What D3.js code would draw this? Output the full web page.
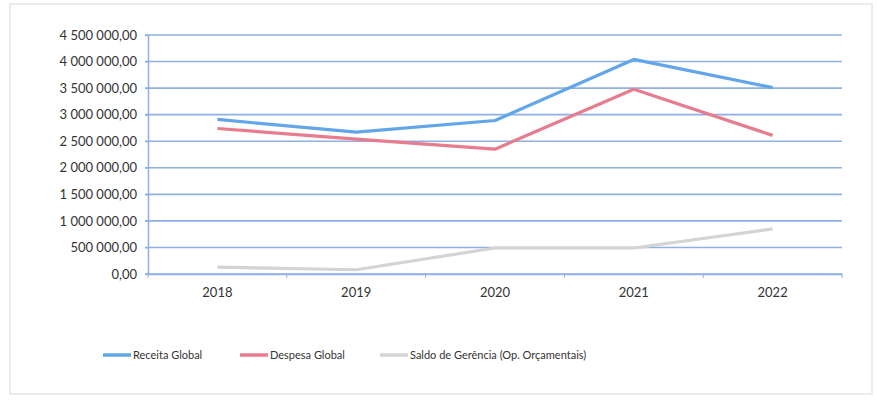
<!DOCTYPE html>
<html>
<head>
<meta charset="utf-8">
<script src="https://cdn.jsdelivr.net/npm/d3@7"></script>
<style>
  body { margin: 0; background: #fff; }
  svg text { font-family: Lato, "Open Sans", sans-serif; }
</style>
</head>
<body>
<div id="chart"></div>
<script>
// data
const years = ["2018", "2019", "2020", "2021", "2022"];
const receitaGlobal = [2910000, 2670000, 2890000, 4040000, 3510000];
const despesaGlobal = [2740000, 2540000, 2350000, 3480000, 2610000];
const saldoGerencia = [130000, 80000, 490000, 490000, 850000];
const seriesNames = ["Receita Global", "Despesa Global", "Saldo de Gerência (Op. Orçamentais)"];
const yTicks = [0, 500000, 1000000, 1500000, 2000000, 2500000, 3000000, 3500000, 4000000, 4500000];

const colors = ["#62a6ea", "#e77c8f", "#d4d4d4"];

let width = 877, height = 400;
let margin = {top: 35, right: 35, bottom: 126, left: 148};

let svg = d3.select("#chart").append("svg")
    .attr("width", width)
    .attr("height", height);

// faint frame of the scanned chart box
svg.append("rect")
    .attr("x", 10).attr("y", 4)
    .attr("width", 862).attr("height", 390)
    .attr("fill", "none")
    .attr("stroke", "#e6e6e6")
    .attr("stroke-width", 1.5);

let x = d3.scaleBand().domain(years).range([margin.left, width - margin.right]);
let y = d3.scaleLinear().domain([0, 4500000]).range([height - margin.bottom, margin.top]);

// y labels like "4 500 000,00"
const fmt = v => d3.format(",.2f")(v).replace(/,/g, " ").replace(".", ",");

// gridlines
svg.append("g")
    .selectAll("line")
    .data(yTicks)
    .enter().append("line")
    .attr("x1", margin.left - 3)
    .attr("x2", width - margin.right)
    .attr("y1", d => y(d))
    .attr("y2", d => y(d))
    .style("stroke", "#8fb0e6")
    .style("stroke-width", 1.6);

// y axis
let yAxis = svg.append("g")
    .attr("transform", `translate(${margin.left},0)`)
    .call(d3.axisLeft(y).tickValues(yTicks).tickFormat(fmt).tickSize(3).tickPadding(8));
yAxis.select(".domain").style("stroke", "#8fb0e6").style("stroke-width", 1.5);
yAxis.selectAll(".tick line").style("stroke", "#8fb0e6");
yAxis.selectAll("text").style("font-size", "13px").style("fill", "#333");

// x axis with ticks on the band edges
let xAxis = svg.append("g")
    .attr("transform", `translate(0,${y(0)})`)
    .call(d3.axisBottom(x).tickSize(0).tickPadding(14));
xAxis.select(".domain").style("stroke", "#8fb0e6").style("stroke-width", 1.5);
xAxis.selectAll("text").style("font-size", "13px").style("fill", "#333");
xAxis.selectAll(".edge")
    .data(years.concat(["end"]))
    .enter().append("line")
    .attr("class", "edge")
    .attr("x1", (d, i) => i < years.length ? x(d) : x.range()[1])
    .attr("x2", (d, i) => i < years.length ? x(d) : x.range()[1])
    .attr("y1", 0).attr("y2", 4)
    .style("stroke", "#8fb0e6");

// lines
const allSeries = [receitaGlobal, despesaGlobal, saldoGerencia];
const line = d3.line()
    .x((d, i) => x(years[i]) + x.bandwidth() / 2)
    .y(d => y(d));

// draw saldo first so it sits beneath
[2, 1, 0].forEach(k => {
    svg.append("path")
        .datum(allSeries[k])
        .attr("d", line)
        .style("fill", "none")
        .style("stroke", colors[k])
        .style("stroke-width", 3.2)
        .style("stroke-linejoin", "round");
});

// legend
const legendX = [103, 240, 380];
const legendY = 355;
let legend = svg.append("g");
seriesNames.forEach((name, i) => {
    legend.append("line")
        .attr("x1", legendX[i]).attr("x2", legendX[i] + 28)
        .attr("y1", legendY).attr("y2", legendY)
        .style("stroke", colors[i])
        .style("stroke-width", 3.5);
    legend.append("text")
        .attr("x", legendX[i] + 30)
        .attr("y", legendY)
        .attr("dy", "0.35em")
        .style("font-size", "11px")
        .style("fill", "#333")
        .text(name);
});
</script>
</body>
</html>
